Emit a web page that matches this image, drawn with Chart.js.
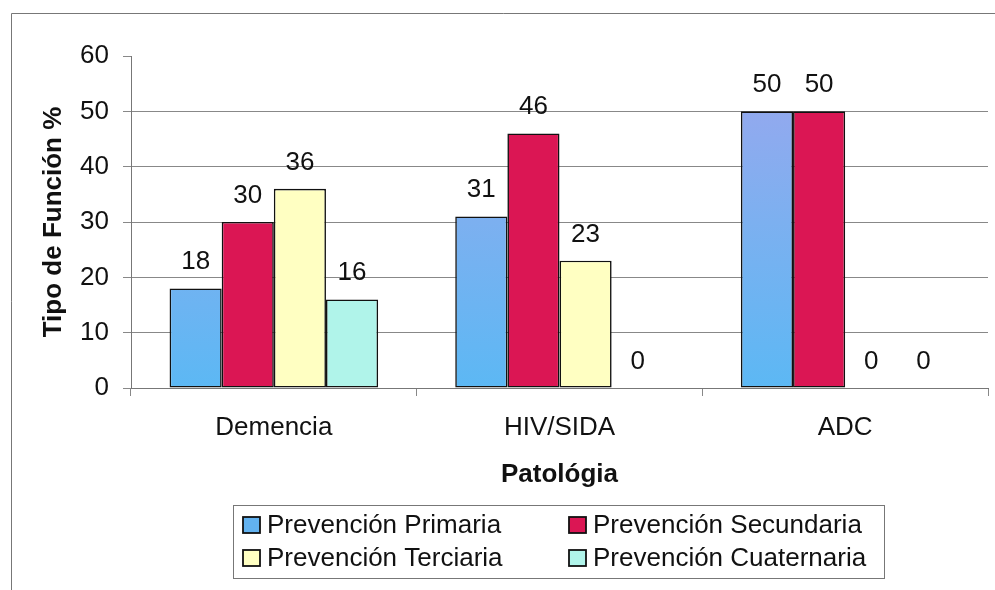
<!DOCTYPE html>
<html>
<head>
<meta charset="utf-8">
<script src="https://cdn.jsdelivr.net/npm/chart.js@4.4.0/dist/chart.umd.min.js"></script>
<style>
  html, body { margin: 0; padding: 0; background: #ffffff; }
  #wrap { width: 995px; height: 590px; position: relative; }
  canvas { display: block; }
</style>
</head>
<body>
<div id="wrap"><canvas id="chart" width="995" height="590"></canvas></div>
<script>
// Categories and series (percentages per pathology)
const categories = ['Demencia', 'HIV/SIDA', 'ADC'];
const seriesNames = ['Prevención Primaria', 'Prevención Secundaria', 'Prevención Terciaria', 'Prevención Cuaternaria'];
const primaria = [18, 31, 50];
const secundaria = [30, 46, 50];
const terciaria = [36, 23, 0];
const cuaternaria = [16, 0, 0];
const yTickValues = [0, 10, 20, 30, 40, 50, 60];
const xTitle = 'Patológia';
const yTitle = 'Tipo de Función %';

const FONT = '"Liberation Sans", Arial, sans-serif';
const SIZE = 26;
const TEXT = '#111111';
const GRID = '#888888';

// Blue fill fades from lavender at the top to sky blue at the base
function blueFill(ctx) {
  const chart = ctx.chart;
  const area = chart.chartArea;
  if (!area) return '#62b2f0';
  const g = chart.ctx.createLinearGradient(0, area.top, 0, area.bottom);
  g.addColorStop(0, '#9ca6ee');
  g.addColorStop(0.5, '#7cb0f0');
  g.addColorStop(1, '#5cb8f4');
  return g;
}

const fills = [blueFill, '#db1654', '#ffffc2', '#b0f4ea'];
const swatches = ['#62b2f0', '#db1654', '#ffffc2', '#b0f4ea'];
const values = [primaria, secundaria, terciaria, cuaternaria];

const datasets = seriesNames.map((name, i) => ({
  label: name,
  data: values[i],
  backgroundColor: fills[i],
  borderColor: '#111111',
  borderWidth: (c) => (c.raw === 0 ? 0 : 1.6),
  borderSkipped: false,
  categoryPercentage: 0.73,
  barPercentage: 1.0
}));

// Outer frame: top and left edges only
const framePlugin = {
  id: 'frame',
  beforeDraw(chart) {
    const ctx = chart.ctx;
    ctx.save();
    ctx.fillStyle = '#ffffff';
    ctx.fillRect(0, 0, chart.width, chart.height);
    ctx.strokeStyle = '#777777';
    ctx.lineWidth = 1;
    ctx.beginPath();
    ctx.moveTo(11.5, chart.height);
    ctx.lineTo(11.5, 13.5);
    ctx.lineTo(chart.width, 13.5);
    ctx.stroke();
    ctx.restore();
  }
};

// Value written above every bar
const valueLabels = {
  id: 'valueLabels',
  afterDatasetsDraw(chart) {
    const ctx = chart.ctx;
    ctx.save();
    ctx.font = SIZE + 'px ' + FONT;
    ctx.fillStyle = TEXT;
    ctx.textAlign = 'center';
    ctx.textBaseline = 'alphabetic';
    chart.data.datasets.forEach((ds, i) => {
      chart.getDatasetMeta(i).data.forEach((bar, j) => {
        ctx.fillText(String(ds.data[j]), bar.x, bar.y - 19);
      });
    });
    ctx.restore();
  }
};

// Boxed two-column legend under the axis title
const boxedLegend = {
  id: 'boxedLegend',
  afterDraw(chart) {
    const ctx = chart.ctx;
    const box = { x: 233.5, y: 505.5, w: 651, h: 73 };
    const cols = [243, 569];
    const rows = [525, 558];
    ctx.save();
    ctx.strokeStyle = '#777777';
    ctx.lineWidth = 1;
    ctx.strokeRect(box.x, box.y, box.w, box.h);
    ctx.font = SIZE + 'px ' + FONT;
    ctx.textAlign = 'left';
    ctx.textBaseline = 'middle';
    chart.data.datasets.forEach((ds, i) => {
      const x = cols[i % 2];
      const y = rows[Math.floor(i / 2)];
      ctx.fillStyle = swatches[i];
      ctx.fillRect(x, y - 8, 17, 16);
      ctx.strokeStyle = '#111111';
      ctx.lineWidth = 1.8;
      ctx.strokeRect(x, y - 8, 17, 16);
      ctx.fillStyle = TEXT;
      ctx.fillText(ds.label, x + 24, y + 1);
    });
    ctx.restore();
  }
};

new Chart(document.getElementById('chart'), {
  type: 'bar',
  data: { labels: categories, datasets },
  options: {
    responsive: false,
    animation: false,
    layout: { padding: { left: 24, top: 56, right: 7, bottom: 92 } },
    plugins: {
      legend: { display: false },
      tooltip: { enabled: false }
    },
    scales: {
      x: {
        afterFit: (s) => { s.height = 110; },
        grid: {
          offset: true,
          drawOnChartArea: false,
          drawTicks: true,
          tickLength: 8,
          color: GRID,
          tickColor: GRID
        },
        border: { display: true, color: '#777777', width: 1 },
        ticks: { color: TEXT, padding: 16, font: { family: FONT, size: SIZE } },
        title: {
          display: true,
          text: xTitle,
          color: TEXT,
          font: { family: FONT, size: SIZE, weight: 'bold' },
          padding: { top: 0, bottom: 8 }
        }
      },
      y: {
        min: 0,
        max: 60,
        afterFit: (s) => { s.width = 107; },
        afterBuildTicks: (s) => { s.ticks = yTickValues.map((v) => ({ value: v })); },
        grid: {
          color: (c) => (c.tick && c.tick.value === 60 ? 'rgba(0,0,0,0)' : GRID),
          tickColor: GRID,
          tickLength: 8,
          drawTicks: true
        },
        border: { display: true, color: '#777777', width: 1 },
        ticks: { color: TEXT, padding: 14, font: { family: FONT, size: SIZE } },
        title: {
          display: true,
          text: yTitle,
          color: TEXT,
          font: { family: FONT, size: SIZE, weight: 'bold' },
          padding: { top: 14, bottom: 0 }
        }
      }
    }
  },
  plugins: [framePlugin, valueLabels, boxedLegend]
});
</script>
</body>
</html>
